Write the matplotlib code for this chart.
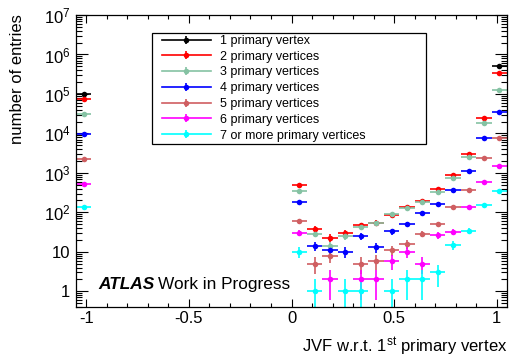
import numpy as np
import matplotlib
matplotlib.use('Agg')
import matplotlib.pyplot as plt
from matplotlib.ticker import FixedLocator, MultipleLocator, LogLocator, FuncFormatter, NullFormatter
from matplotlib.patches import Rectangle
from matplotlib.lines import Line2D

plt.rcParams['font.family'] = ['Liberation Sans', 'DejaVu Sans']
plt.rcParams['mathtext.fontset'] = 'custom'
plt.rcParams['mathtext.rm'] = 'Liberation Sans'
plt.rcParams['mathtext.it'] = 'Liberation Sans:italic'
plt.rcParams['mathtext.bf'] = 'Liberation Sans:bold'

nan = float('nan')

# JVF bin centres (bin width 0.075) that hold entries
jvf = [-1.0125, 0.0375, 0.1125, 0.1875, 0.2625, 0.3375, 0.4125, 0.4875,
       0.5625, 0.6375, 0.7125, 0.7875, 0.8625, 0.9375, 1.0125]
half_width = 0.0375

n_pv1 = [1.0e5, nan, nan, nan, nan, nan, nan, nan, nan, nan, nan, nan, nan, nan, 5.2e5]
n_pv2 = [7.6e4, 494, 38, 23, 30, 48, 55, 84, 135, 195, 400, 864, 3000, 24000, 3.4e5]
n_pv3 = [3.1e4, 355, 29, 14, 25, 42, 54, 89, 128, 188, 320, 745, 2500, 17900, 1.23e5]
n_pv4 = [9.4e3, 183, 14, 11, 10, 25, 13, 33, 51, 96, 166, 370, 1140, 7600, 3.5e4]
n_pv5 = [2.2e3, 59, 5, 8, nan, 5, 6, 11, 16, 29, 51, 134, 370, 2400, 7600]
n_pv6 = [530, 30, nan, 2, nan, 2, 2, 6, 10, 5, 26, 32, 137, 590, 1500]
n_pv7 = [139, 10, 1, nan, 1, 1, nan, 1, 2, 2, 3, 15, 34, 150, 355]

series = [n_pv1, n_pv2, n_pv3, n_pv4, n_pv5, n_pv6, n_pv7]
labels = ['1 primary vertex', '2 primary vertices', '3 primary vertices',
          '4 primary vertices', '5 primary vertices', '6 primary vertices',
          '7 or more primary vertices']
colors = ['#000000', '#ff0000', '#85c2a3', '#0000ff', '#cf5e61', '#ff00ff', '#00ffff']

W, H = 509, 358
fig = plt.figure(figsize=(W / 100, H / 100), dpi=100)
ax = fig.add_axes([76 / W, 51 / H, 431 / W, 292 / H])
ax.set_yscale('log')

handles = []
for vals, lab, col in zip(series, labels, colors):
    x = np.array(jvf)
    y = np.array(vals, dtype=float)
    m = ~np.isnan(y)
    x, y = x[m], y[m]
    err = np.sqrt(y)
    lo = np.minimum(err, y * 0.999)
    ax.errorbar(x, y, xerr=half_width, yerr=[lo, err], fmt='o', color=col,
                ms=4, elinewidth=1.2, capsize=0, mew=0)
    handles.append((Line2D([], [], color=col, lw=1.2, marker='o', ms=4, mew=0),
                    Line2D([], [], color=col, lw=0, marker='|', ms=6, mew=1.2)))

ax.set_xlim(-1.05, 1.05)
ax.set_ylim(0.4, 1e7)

ax.xaxis.set_major_locator(FixedLocator([-1, -0.5, 0, 0.5, 1]))
ax.xaxis.set_major_formatter(FuncFormatter(lambda v, p: '%g' % v))
ax.xaxis.set_minor_locator(MultipleLocator(0.1))
ax.yaxis.set_major_locator(FixedLocator([10.0 ** k for k in range(8)]))
ax.yaxis.set_minor_locator(LogLocator(base=10, subs=np.arange(2, 10), numticks=20))
ax.yaxis.set_minor_formatter(NullFormatter())

def ylab(v, p):
    k = int(round(np.log10(v)))
    if k == 0:
        return '1'
    if k == 1:
        return '10'
    return '$10^{%d}$' % k
ax.yaxis.set_major_formatter(FuncFormatter(ylab))

ax.tick_params(axis='both', which='both', direction='in', top=True, right=True,
               labelsize=12, color='black')
ax.tick_params(axis='x', which='major', length=5.8, width=0.8, pad=3)
ax.tick_params(axis='x', which='minor', length=2.9, width=0.8)
ax.tick_params(axis='y', which='major', length=8.6, width=0.8, pad=4)
ax.tick_params(axis='y', which='minor', length=4.3, width=0.8)
for s in ax.spines.values():
    s.set_linewidth(0.9)

fig.text(507 / W, 5.5 / H, 'JVF w.r.t. 1$^{\\mathrm{st}}$ primary vertex',
         ha='right', va='baseline', fontsize=12)
fig.text(17.5 / W, 1 - 14 / H, 'number of entries', rotation=90,
         ha='center', va='top', fontsize=12)

# legend box drawn by hand, entries placed inside it
fig.patches.append(Rectangle((152 / W, 1 - 144 / H), 274 / W, 111 / H,
                             transform=fig.transFigure, fill=True, facecolor='white',
                             edgecolor='black', lw=0.9, zorder=5))
leg = fig.legend(handles, labels, loc='upper left',
                 bbox_to_anchor=(162 / W, 1 - 35 / H), bbox_transform=fig.transFigure,
                 frameon=False, fontsize=9, borderpad=0, handlelength=3.9,
                 handletextpad=0.75, labelspacing=0.3, borderaxespad=0)
leg.set_zorder(6)

t1 = fig.text(98 / W, (H - 289) / H, 'ATLAS', fontsize=12.4, fontweight='bold',
              style='italic', va='baseline')
fig.canvas.draw()
bb = t1.get_window_extent()
fig.text((bb.x1 + 4) / W, (H - 289) / H, 'Work in Progress', fontsize=12.4, va='baseline')

fig.savefig('out.png', dpi=100)
